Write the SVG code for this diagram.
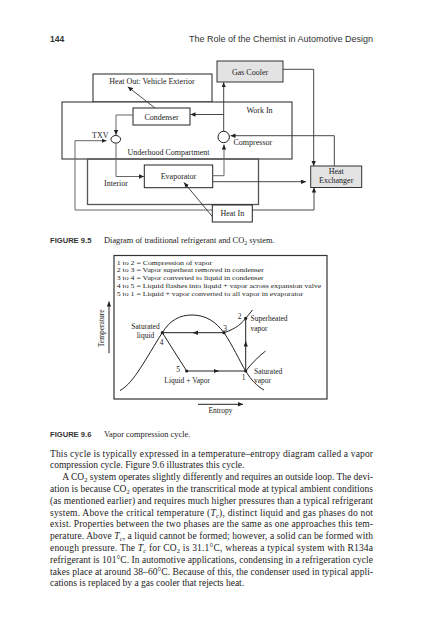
<svg xmlns="http://www.w3.org/2000/svg" width="424" height="640" viewBox="0 0 424 640">
<defs>
<marker id="ah" markerUnits="userSpaceOnUse" markerWidth="6" markerHeight="5" refX="5" refY="2.2" orient="auto">
<path d="M0,0 L5,2.2 L0,4.4 z" fill="#222"/>
</marker>
</defs>
<style>
.s{font-family:"Liberation Serif","Times New Roman",serif;fill:#222}
.l{font-size:8px}
.k{font-size:7.5px}
.lg{font-size:7.1px}
.b{font-size:9.5px}
.hd{font-family:"Liberation Sans",Arial,sans-serif;fill:#333}
.box{fill:#fff;stroke:#222;stroke-width:1}
.gbox{fill:#e3e3e3;stroke:#333;stroke-width:1}
.ln{fill:none;stroke:#333;stroke-width:0.9}
.gl{fill:none;stroke:#666;stroke-width:1}
.arr{marker-end:url(#ah)}
.cv{fill:none;stroke:#222;stroke-width:1}
.dot{fill:#222}
</style>
<rect width="424" height="640" fill="#fff"/>

<!-- header -->
<text class="hd" x="50" y="41.5" font-size="8.5" font-weight="bold">144</text>
<text class="hd" x="189" y="41.5" font-size="8.8" textLength="184" lengthAdjust="spacingAndGlyphs">The Role of the Chemist in Automotive Design</text>

<!-- FIGURE 9.5 -->
<g id="heat-out">
<rect class="box" x="93" y="74" width="119" height="28"/>
<text class="s l" x="152" y="84" text-anchor="middle">Heat Out: Vehicle Exterior</text>
</g>
<g id="underhood">
<rect class="box" x="62" y="102" width="230" height="57" fill="none"/>
<text class="s l" x="168.5" y="155" text-anchor="middle">Underhood Compartment</text>
<text class="s l" x="259.5" y="113" text-anchor="middle">Work In</text>
</g>
<g id="interior">
<rect x="87.5" y="159" width="171" height="45.5" fill="none" stroke="#555" stroke-width="1.3"/>
<text class="s l" x="116" y="186" text-anchor="middle">Interior</text>
</g>
<g id="gas-cooler">
<rect class="gbox" x="217" y="61" width="66" height="21"/>
<text class="s l" x="250" y="74.5" text-anchor="middle">Gas Cooler</text>
</g>
<g id="condenser">
<rect class="box" x="133" y="108" width="57" height="17"/>
<text class="s l" x="161.5" y="119.5" text-anchor="middle">Condenser</text>
</g>
<g id="compressor">
<circle cx="223.7" cy="137" r="5.7" fill="#fff" stroke="#222" stroke-width="1"/>
<text class="s l" x="233.5" y="145">Compressor</text>
</g>
<g id="txv">
<ellipse cx="115.8" cy="139.3" rx="4.8" ry="3.8" fill="#fff" stroke="#222" stroke-width="1"/>
<text class="s l" x="92" y="138">TXV</text>
</g>
<g id="evaporator">
<rect class="box" x="144.3" y="165" width="68.4" height="22.7"/>
<text class="s l" x="178.5" y="178.5" text-anchor="middle">Evaporator</text>
</g>
<g id="heat-exchanger">
<rect class="gbox" x="310.7" y="166" width="51" height="21.5"/>
<text class="s l" x="336.2" y="174" text-anchor="middle">Heat</text>
<text class="s l" x="336.2" y="183.2" text-anchor="middle">Exchanger</text>
</g>
<g id="heat-in">
<rect class="box" x="212.3" y="205" width="40" height="17"/>
<text class="s l" x="232.3" y="216" text-anchor="middle">Heat In</text>
</g>

<g id="connectors">
<path class="gl arr" d="M212.3,210 H75 V140.7 H106.5"/>
<path class="ln arr" d="M252.3,210 H314 V187.5"/>
<path class="ln arr" d="M283,69.3 H313.7 V166"/>
<path class="ln arr" d="M334.3,166 V135.7 H230.5"/>
<path class="ln arr" d="M212.7,181.7 H306"/>
<path class="gl arr" d="M212.7,175.7 H224 V144.5"/>
<path class="ln arr" d="M223.7,131.3 V82.3"/>
<path class="ln arr" d="M223.7,114.5 H190.5"/>
<path class="gl arr" d="M133,115 H116 V135"/>
<path class="gl arr" d="M116,143.1 V176.5 H144"/>
<path class="ln arr" d="M155,108 L127.8,86.8"/>
<path class="ln arr" d="M212.3,216.5 L184,182.5"/>
</g>

<text x="50" y="243" font-family="Liberation Sans,Arial,sans-serif" font-weight="bold" font-size="7.6" fill="#333">FIGURE 9.5</text>
<text class="s" x="104" y="243" font-size="8.4">Diagram of traditional refrigerant and CO<tspan font-size="6" dy="1.8">2</tspan><tspan dy="-1.8"> system.</tspan></text>

<!-- FIGURE 9.6 -->
<g id="ts-diagram">
<rect x="114" y="255.5" width="213" height="143.5" fill="none" stroke="#333" stroke-width="1.2"/>
<g transform="translate(116.7,0) scale(1.1,1)">
<text class="s lg" x="0" y="264.6">1 to 2 = Compression of vapor</text>
<text class="s lg" x="0" y="272.4">2 to 3 = Vapor superheat removed in condenser</text>
<text class="s lg" x="0" y="280.2">3 to 4 = Vapor converted to liquid in condenser</text>
<text class="s lg" x="0" y="288">4 to 5 = Liquid flashes into liquid + vapor across expansion valve</text>
<text class="s lg" x="0" y="295.8">5 to 1 = Liquid + vapor converted to all vapor in evaporator</text>
</g>

<path class="cv" d="M120,390.5 C134,383 146,358 162.3,332.7 C170,320 180,315 192,315 C206,315 216,322 224,332.7 C232,344 240,362 245.7,371 C251,380 257,386 264,390"/>
<path class="cv" d="M224,332.7 C232,330 240,326 245.7,318.3 L252.5,310"/>
<path class="cv" d="M245.7,371 C252,363 258,357 265.5,351"/>
<path class="cv" d="M224,332.7 H162.3 L186.7,371 H245.7 V318.3"/>
<path class="cv arr" d="M197,332.7 H193"/>
<path class="cv arr" d="M214,371 H218.5"/>
<path class="cv arr" d="M245.7,346 V341.5"/>
<circle class="dot" cx="162.3" cy="332.7" r="1.6"/>
<circle class="dot" cx="224" cy="332.7" r="1.6"/>
<circle class="dot" cx="245.7" cy="318.3" r="1.6"/>
<circle class="dot" cx="245.7" cy="371" r="1.6"/>
<circle class="dot" cx="186.7" cy="371" r="1.6"/>

<text class="s k" x="145.5" y="329" text-anchor="middle">Saturated</text>
<text class="s k" x="145.5" y="337.5" text-anchor="middle">liquid</text>
<text class="s k" x="161.7" y="345.3" text-anchor="middle">4</text>
<text class="s k" x="225" y="330.5" text-anchor="middle">3</text>
<text class="s k" x="239.5" y="318.8" text-anchor="middle">2</text>
<text class="s k" x="250.5" y="321">Superheated</text>
<text class="s k" x="250.5" y="330.5">vapor</text>
<text class="s k" x="178" y="371.5" text-anchor="middle">5</text>
<text class="s k" x="187.2" y="382.5" text-anchor="middle">Liquid + Vapor</text>
<text class="s k" x="243.5" y="380.3" text-anchor="middle">1</text>
<text class="s k" x="254" y="373.8">Saturated</text>
<text class="s k" x="254" y="382.5">vapor</text>

<path class="cv arr" d="M109,353.3 V301.5" stroke-width="0.9"/>
<text class="s k" transform="translate(103.5,328.3) rotate(-90)" text-anchor="middle">Temperature</text>
<path class="cv arr" d="M198,404.3 H243" stroke-width="0.9"/>
<text class="s k" x="220.5" y="413" text-anchor="middle">Entropy</text>
</g>

<text x="50" y="437" font-family="Liberation Sans,Arial,sans-serif" font-weight="bold" font-size="7.6" fill="#333">FIGURE 9.6</text>
<text class="s" x="104" y="437" font-size="8.4">Vapor compression cycle.</text>

<!-- body text -->
<g class="s b">
<text x="50" y="456.5" textLength="323" lengthAdjust="spacing">This cycle is typically expressed in a temperature–entropy diagram called a vapor</text>
<text x="50" y="468.3">compression cycle. Figure 9.6 illustrates this cycle.</text>
<text x="62.3" y="480.1" textLength="310.7" lengthAdjust="spacing">A CO<tspan font-size="6.5" dy="2">2</tspan><tspan dy="-2"> system operates slightly differently and requires an outside loop. The devi-</tspan></text>
<text x="50" y="491.9" textLength="323" lengthAdjust="spacing">ation is because CO<tspan font-size="6.5" dy="2">2</tspan><tspan dy="-2"> operates in the transcritical mode at typical ambient conditions</tspan></text>
<text x="50" y="503.7" textLength="323" lengthAdjust="spacing">(as mentioned earlier) and requires much higher pressures than a typical refrigerant</text>
<text x="50" y="515.5" textLength="323" lengthAdjust="spacing">system. Above the critical temperature (<tspan font-style="italic">T</tspan><tspan font-size="6.5" font-style="italic" dy="2">c</tspan><tspan dy="-2">), distinct liquid and gas phases do not</tspan></text>
<text x="50" y="527.3" textLength="323" lengthAdjust="spacing">exist. Properties between the two phases are the same as one approaches this tem-</text>
<text x="50" y="539.1" textLength="323" lengthAdjust="spacing">perature. Above <tspan font-style="italic">T</tspan><tspan font-size="6.5" font-style="italic" dy="2">c</tspan><tspan dy="-2">, a liquid cannot be formed; however, a solid can be formed with</tspan></text>
<text x="50" y="550.9" textLength="323" lengthAdjust="spacing">enough pressure. The <tspan font-style="italic">T</tspan><tspan font-size="6.5" font-style="italic" dy="2">c</tspan><tspan dy="-2"> for CO</tspan><tspan font-size="6.5" dy="2">2</tspan><tspan dy="-2"> is 31.1°C, whereas a typical system with R134a</tspan></text>
<text x="50" y="562.7" textLength="323" lengthAdjust="spacing">refrigerant is 101°C. In automotive applications, condensing in a refrigeration cycle</text>
<text x="50" y="574.5" textLength="323" lengthAdjust="spacing">takes place at around 38–60°C. Because of this, the condenser used in typical appli-</text>
<text x="50" y="586.3">cations is replaced by a gas cooler that rejects heat.</text>
</g>
</svg>
